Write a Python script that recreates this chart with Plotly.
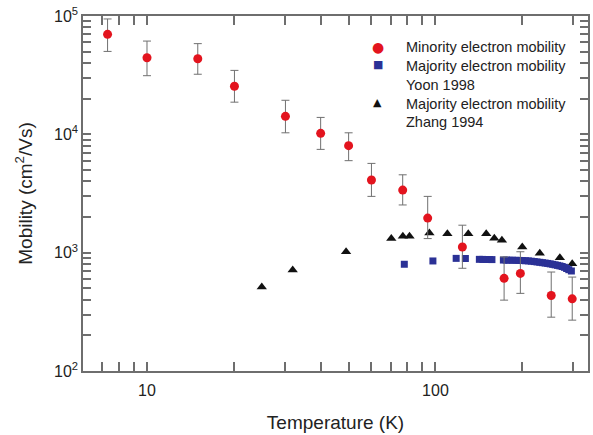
import plotly.graph_objects as go
import numpy as np

# Minority electron mobility (with error bars)
min_T = [7.3, 10, 15, 20.1, 30.2, 40, 50, 60, 77, 94, 124, 173, 197, 252, 298]
min_mu = [70000, 44400, 43500, 25500, 14200, 10200, 8020, 4110, 3380, 1960, 1117, 607, 668, 435, 407]
min_hi = [94400, 61400, 58400, 34700, 19400, 13900, 10300, 5680, 4550, 2990, 1707, 920, 1018, 686, 622]
min_lo = [50200, 31300, 32200, 18700, 10300, 7460, 5990, 2990, 2530, 1315, 738, 397, 453, 285, 269]

# Majority electron mobility, Yoon 1998
yoon_T = [78, 98, 118, 127, 142, 146, 150, 154, 157, 172, 176, 180, 185, 190, 195, 200, 205,
          210, 215, 220, 225, 230, 235, 240, 245, 250, 255, 260, 265, 270, 275, 280, 285, 290, 296]
yoon_mu = [798, 851, 895, 893, 878, 877, 876, 875, 874, 866, 865, 864, 863, 862, 860, 858, 855,
           852, 847, 841, 835, 829, 823, 817, 811, 804, 797, 789, 781, 773, 764, 752, 735, 718, 700]

# Majority electron mobility, Zhang 1994
zhang_T = [25, 32, 49, 70.3, 77.1, 81.3, 95.3, 110, 130, 150, 160, 170, 200, 230, 270, 298]
zhang_mu = [512, 713, 1018, 1315, 1377, 1377, 1469, 1442, 1442, 1442, 1325, 1273, 1117, 988, 907, 807]

legend_lines = ["Minority electron mobility", "Majority electron mobility", "Yoon 1998",
                "Majority electron mobility", "Zhang 1994"]

x_major = [10, 100]
x_minor = [7, 8, 9, 20, 30, 40, 50, 60, 70, 80, 90, 200, 300]
y_major = [100, 1000, 10000, 100000]
y_major_text = ["10<sup>2</sup>", "10<sup>3</sup>", "10<sup>4</sup>", "10<sup>5</sup>"]
y_minor = [m * 10 ** e for e in (2, 3, 4) for m in range(2, 10)]

FONT = "Liberation Sans, Arial, sans-serif"
TXT = "#222222"
AX = "#6e6e6e"
RED = "#e3141e"
BLUE = "#2b3196"
BLACK = "#111111"

fig = go.Figure()

fig.add_trace(go.Scatter(
    x=zhang_T, y=zhang_mu, mode="markers", showlegend=False,
    name="Majority electron mobility Zhang 1994",
    marker=dict(symbol="triangle-up", size=9, color=BLACK),
))
fig.add_trace(go.Scatter(
    x=yoon_T, y=yoon_mu, mode="markers", showlegend=False,
    name="Majority electron mobility Yoon 1998",
    marker=dict(symbol="square", size=7, color=BLUE),
))
fig.add_trace(go.Scatter(
    x=min_T, y=min_mu, mode="markers", showlegend=False,
    name="Minority electron mobility",
    marker=dict(symbol="circle", size=9, color=RED),
    error_y=dict(type="data", symmetric=False,
                 array=[h - m for h, m in zip(min_hi, min_mu)],
                 arrayminus=[m - l for m, l in zip(min_mu, min_lo)],
                 color="#707070", thickness=1, width=4),
))

axis_common = dict(
    type="log", showline=True, linecolor=AX, linewidth=1.5, mirror="ticks",
    ticks="inside", tickcolor=AX, tickwidth=1.5, showgrid=False, zeroline=False,
    tickfont=dict(family=FONT, size=16, color=TXT),
)

# Legend drawn as text: labels block plus symbol glyphs
annotations = [
    dict(xref="paper", yref="paper", x=0.635, y=0.808, xanchor="left", yanchor="middle",
         align="left", showarrow=False, text="<br>".join(legend_lines),
         font=dict(family=FONT, size=14.5, color=TXT)),
    dict(xref="paper", yref="paper", x=0.584, y=0.9135, xanchor="center", yanchor="middle",
         showarrow=False, text="●", font=dict(family="DejaVu Sans", size=14, color=RED)),
    dict(xref="paper", yref="paper", x=0.584, y=0.862, xanchor="center", yanchor="middle",
         showarrow=False, text="■", font=dict(family="DejaVu Sans", size=11, color=BLUE)),
    dict(xref="paper", yref="paper", x=0.584, y=0.756, xanchor="center", yanchor="middle",
         showarrow=False, text="▲", font=dict(family="DejaVu Sans", size=11, color=BLACK)),
]

fig.update_layout(
    width=593, height=435,
    margin=dict(l=83, r=3, t=16, b=64),
    paper_bgcolor="white", plot_bgcolor="white",
    font=dict(family=FONT, color=TXT),
    showlegend=False,
    annotations=annotations,
    xaxis=dict(**axis_common, range=[np.log10(6.0), np.log10(338)],
               tickvals=x_major, ticktext=[str(v) for v in x_major], ticklen=9,
               ticklabelstandoff=4,
               minor=dict(tickvals=x_minor, ticks="inside", ticklen=9, tickwidth=1.5, tickcolor=AX,
                          showgrid=False),
               title=dict(text="Temperature (K)", font=dict(family=FONT, size=19, color=TXT), standoff=18)),
    yaxis=dict(**axis_common, range=[2, 5],
               tickvals=y_major, ticktext=y_major_text, ticklen=8,
               minor=dict(tickvals=y_minor, ticks="inside", ticklen=8, tickwidth=1.5, tickcolor=AX,
                          showgrid=False),
               title=dict(text="Mobility (cm<sup>2</sup>/Vs)", font=dict(family=FONT, size=19, color=TXT), standoff=16)),
)

fig.write_html("out.html")
